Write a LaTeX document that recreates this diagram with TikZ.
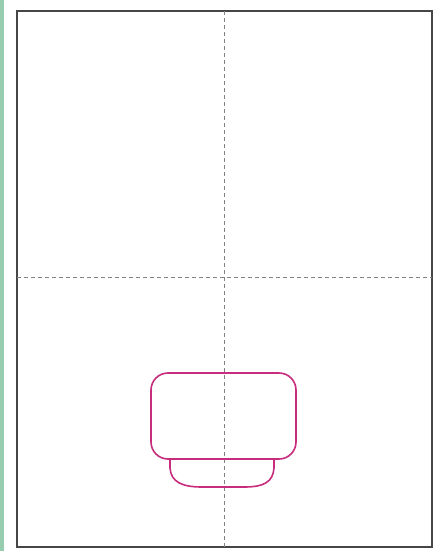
\documentclass[tikz,border=0pt]{standalone}
\definecolor{frame}{RGB}{70,70,70}
\definecolor{guide}{RGB}{130,130,130}
\definecolor{pinkline}{RGB}{200,45,125}
\definecolor{strip}{RGB}{150,205,175}
\tikzset{
  framebox/.style={draw=frame,line width=2pt},
  guideline/.style={draw=guide,line width=0.5pt,dash pattern=on 4pt off 3pt},
  cupline/.style={draw=pinkline,line width=1.6pt,line join=round}
}
\begin{document}
\begin{tikzpicture}[x=1pt,y=-1pt]
\useasboundingbox[fill=white] (0,0) rectangle (437,551);
\fill[strip] (0,0) rectangle (4,551);
\coordinate (tl) at (17,11);
\coordinate (br) at (432,547);
\draw[framebox] (tl) rectangle (br);
\coordinate (vt) at (224,11);
\coordinate (vb) at (224,547);
\coordinate (hl) at (17,277);
\coordinate (hr) at (432,277);
\draw[guideline] (vt) -- (vb);
\draw[guideline] (hl) -- (hr);
% upper rounded body
\draw[cupline,rounded corners=17pt] (151,373) rectangle (296,459);
% lower bowl
\draw[cupline] (170,459) -- (170,468) .. controls (171,482) and (182,487) .. (202,487)
  -- (244,487) .. controls (264,487) and (273,482) .. (274,468) -- (274,459);
\end{tikzpicture}
\end{document}
